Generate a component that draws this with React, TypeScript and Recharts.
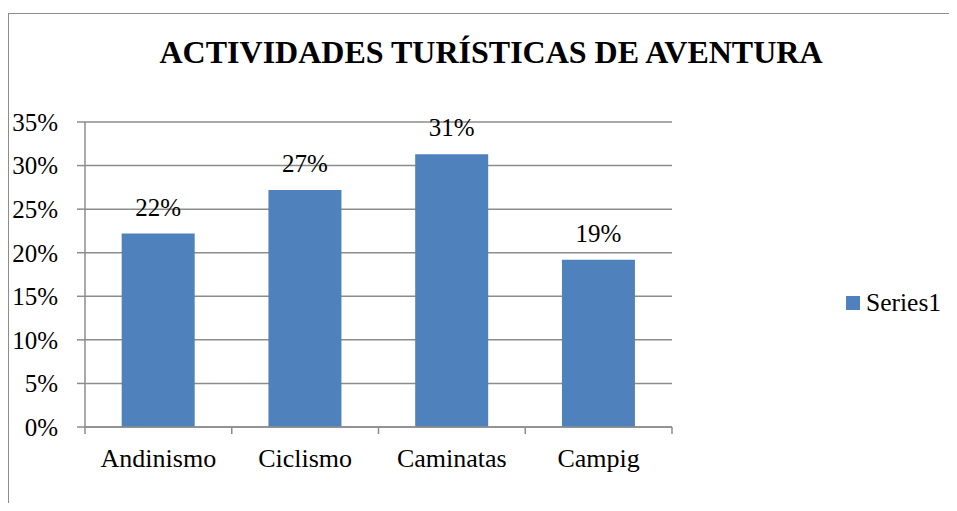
import { BarChart, Bar, XAxis, YAxis, CartesianGrid, LabelList, Legend } from "recharts"

const categories = ["Andinismo", "Ciclismo", "Caminatas", "Campig"]
const values = [0.222, 0.272, 0.313, 0.192]
const yTicks = [0, 0.05, 0.1, 0.15, 0.2, 0.25, 0.3, 0.35]
const seriesName = "Series1"
const title = "ACTIVIDADES TURÍSTICAS DE AVENTURA"

const data = categories.map((name, i) => ({ name, value: values[i] }))

const FONT = "Liberation Serif, serif"
const GREY = "#8c8c8c"
const BLUE = "#4f81bd"
const X_TICK_MARGIN = 22

const pct = (v: number) => `${Math.round(v * 100)}%`

// category label plus the small tick marks sitting on the category boundaries
const CategoryTick = (props: any) => {
  const { x, y, payload, index, width } = props
  const half = payload?.offset ?? width / categories.length / 2
  const axisY = y - X_TICK_MARGIN
  const last = index === categories.length - 1
  return (
    <g>
      <line x1={x - half} x2={x - half} y1={axisY} y2={axisY + 7} stroke={GREY} strokeWidth={1.5} />
      {last && <line x1={x + half} x2={x + half} y1={axisY} y2={axisY + 7} stroke={GREY} strokeWidth={1.5} />}
      <text x={x} y={y} dy="0.71em" textAnchor="middle" fill="#000" fontSize={26} fontFamily={FONT}>
        {payload.value}
      </text>
    </g>
  )
}

const LegendBox = () => (
  <div style={{ display: "flex", alignItems: "center", fontFamily: FONT, fontSize: 25.5, color: "#000" }}>
    <span style={{ width: 14, height: 14, background: BLUE, marginRight: 6, display: "inline-block" }}></span>
    <span>{seriesName}</span>
  </div>
)

export default function App() {
  return (
    <div style={{ position: "relative", width: 949, height: 495, fontFamily: FONT }}>
      {/* frame: only top and left edges show */}
      <div
        style={{
          position: "absolute",
          left: 0,
          top: 5,
          width: 949,
          height: 495,
          borderTop: `1px solid ${GREY}`,
          borderLeft: `1px solid ${GREY}`,
          boxSizing: "border-box",
        }}
      ></div>
      <div
        style={{
          position: "absolute",
          left: 83,
          top: 28,
          width: 800,
          textAlign: "center",
          fontSize: 32,
          lineHeight: "32px",
          fontWeight: "bold",
          color: "#000",
        }}
      >
        {title}
      </div>
      <div style={{ position: "absolute", left: 0, top: 0 }}>
        <BarChart
          width={949}
          height={495}
          data={data}
          margin={{ top: 114, right: 285, bottom: 40, left: 0 }}
          barCategoryGap="25%"
          style={{ fontFamily: FONT }}
        >
          <CartesianGrid horizontal vertical={false} stroke={GREY} strokeWidth={1.5} />
          <XAxis
            dataKey="name"
            height={36}
            tickLine={false}
            tickSize={0}
            tickMargin={X_TICK_MARGIN}
            axisLine={{ stroke: GREY, strokeWidth: 1.5 }}
            tick={<CategoryTick />}
            interval={0}
          />
          <YAxis
            width={77}
            domain={[0, 0.35]}
            ticks={yTicks}
            tickFormatter={pct}
            tickSize={8}
            tickMargin={19}
            axisLine={{ stroke: GREY, strokeWidth: 1.5 }}
            tickLine={{ stroke: GREY, strokeWidth: 1.5 }}
            tick={{ fill: "#000", fontSize: 25, fontFamily: FONT }}
          />
          <Legend
            layout="horizontal"
            verticalAlign="middle"
            align="center"
            content={() => <LegendBox />}
            wrapperStyle={{ left: 838, top: 280, width: 120 }}
          />
          <Bar dataKey="value" name={seriesName} fill={BLUE} isAnimationActive={false}>
            <LabelList
              dataKey="value"
              position="top"
              offset={18}
              formatter={(v: any) => pct(Number(v))}
              style={{ fill: "#000", fontSize: 25, fontFamily: FONT }}
            />
          </Bar>
        </BarChart>
      </div>
    </div>
  )
}
